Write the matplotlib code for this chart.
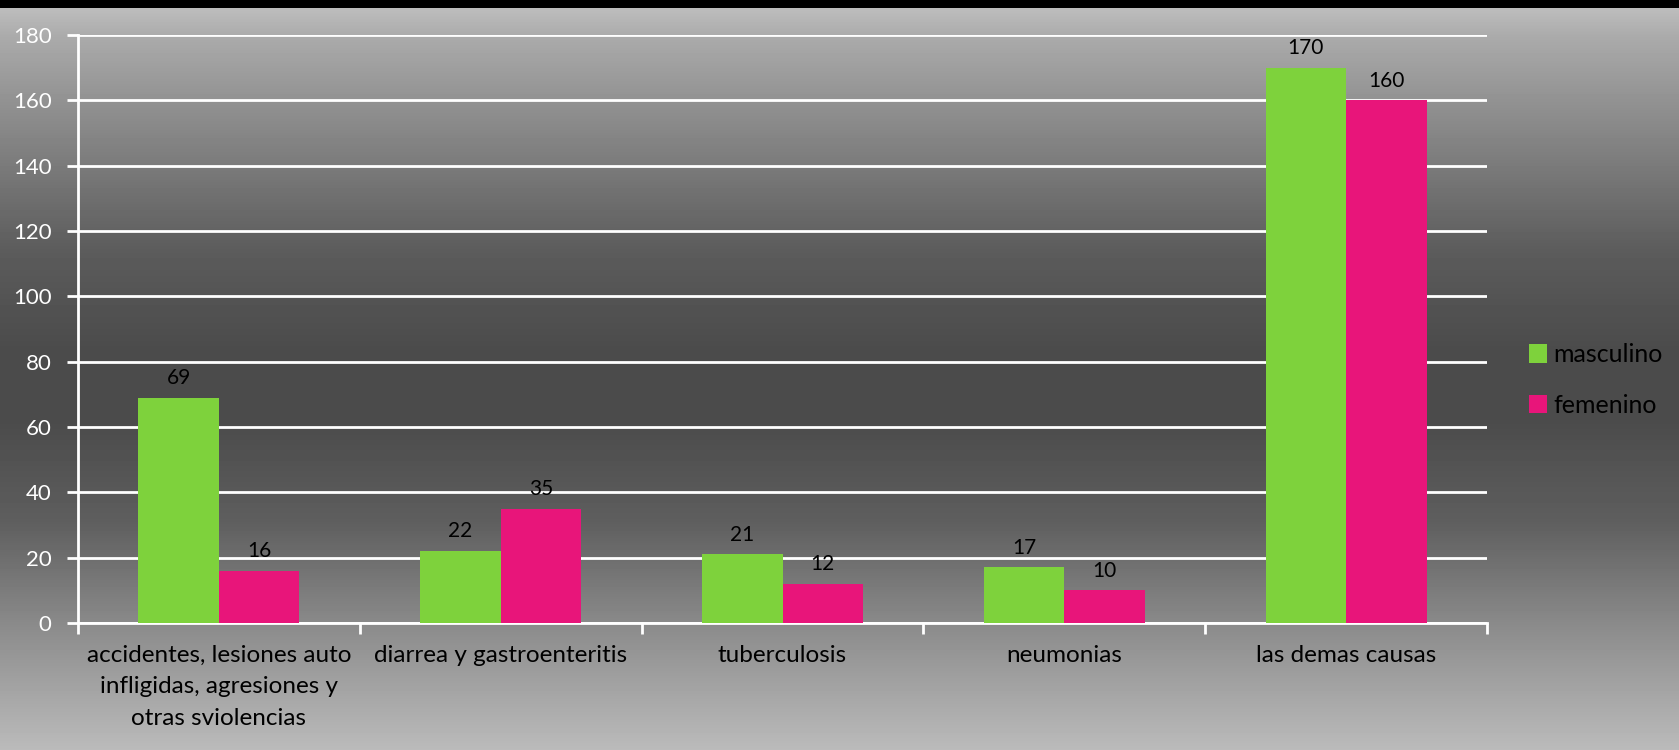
import numpy as np
import matplotlib
matplotlib.use('Agg')
import matplotlib.pyplot as plt

categories = ["accidentes, lesiones auto\ninfligidas, agresiones y\notras sviolencias",
              "diarrea y gastroenteritis", "tuberculosis", "neumonias", "las demas causas"]
masculino = [69, 22, 21, 17, 170]
femenino = [16, 35, 12, 10, 160]
y_ticks = [0, 20, 40, 60, 80, 100, 120, 140, 160, 180]

GREEN = '#7ED23C'
PINK = '#E8157A'

plt.rcParams['font.family'] = ['Lato', 'DejaVu Sans']

W, H = 1679, 750
fig = plt.figure(figsize=(W / 100, H / 100), dpi=100)

# background gradient (grey -> dark -> grey) with black strip on top
bg = fig.add_axes([0, 0, 1, 1], zorder=-10)
stops_y = [0, 8, 35, 100, 250, 350, 420, 520, 623, 700, 750]
stops_v = [0, 0xbd, 0xab, 0x92, 0x5c, 0x4b, 0x4b, 0x5e, 0x8a, 0xa8, 0xbb]
rows = np.arange(H)
vals = np.interp(rows, stops_y, stops_v) / 255.0
vals[:8] = 0.0
img = np.repeat(vals[:, None], 2, axis=1)
bg.imshow(img, cmap='gray', vmin=0, vmax=1, aspect='auto', extent=[0, 1, 0, 1])
bg.axis('off')

ax = fig.add_axes([78 / W, 1 - 623 / H, (1487 - 78) / W, (623 - 35) / H])
ax.patch.set_alpha(0)

x = np.arange(len(categories))
bw = 1 / 3.5
b1 = ax.bar(x - bw / 2, masculino, bw, color=GREEN, label='masculino', zorder=3)
b2 = ax.bar(x + bw / 2, femenino, bw, color=PINK, label='femenino', zorder=3)

for bars in (b1, b2):
    for rect in bars:
        h = rect.get_height()
        ax.annotate(f'{h:g}', (rect.get_x() + rect.get_width() / 2, h),
                    xytext=(0, 7), textcoords='offset points',
                    ha='center', va='bottom', fontsize=15, color='black')

ax.set_xlim(-0.5, len(categories) - 0.5)
ax.set_ylim(0, 180)
ax.set_yticks(y_ticks)
ax.set_yticklabels([str(t) for t in y_ticks], color='white', fontsize=16)
ax.yaxis.grid(True, color='white', linewidth=2, zorder=1)
ax.set_axisbelow(True)

# category labels centred, ticks at boundaries
ax.set_xticks(x)
ax.set_xticklabels(categories, fontsize=17.5, color='black', linespacing=1.6)
ax.tick_params(axis='x', length=0, pad=16)
ax.set_xticks(np.arange(-0.5, len(categories)), minor=True)
ax.tick_params(axis='x', which='minor', length=8, width=2, color='white', direction='out')
ax.tick_params(axis='y', length=8, width=2, color='white', direction='out', pad=11)

for s in ['top', 'right']:
    ax.spines[s].set_visible(False)
for s in ['left', 'bottom']:
    ax.spines[s].set_color('white')
    ax.spines[s].set_linewidth(2)

leg = ax.legend(loc='center left', bbox_to_anchor=(1506 / W, 1 - 380 / H),
                bbox_transform=fig.transFigure, frameon=False,
                fontsize=18, handlelength=0.75, handleheight=0.75,
                handletextpad=0.25, labelspacing=1.1)
for t in leg.get_texts():
    t.set_color('black')

fig.savefig('out.png', dpi=100)
